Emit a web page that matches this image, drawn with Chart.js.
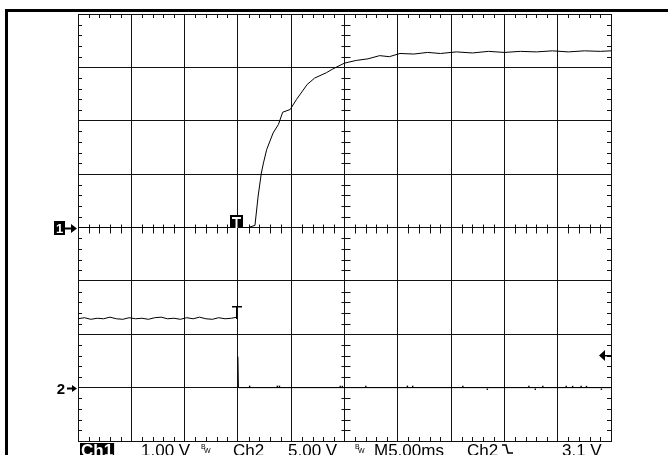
<!DOCTYPE html>
<html>
<head>
<meta charset="utf-8">
<script src="https://cdn.jsdelivr.net/npm/chart.js@4"></script>
<style>
  body { margin: 0; background: #fff; }
  #scope { display: block; }
</style>
</head>
<body>
<canvas id="scope" width="668" height="455"></canvas>
<script>
// scope settings
const ch1VoltsPerDiv = 1.0;
const ch2VoltsPerDiv = 5.0;
const msPerDiv = 5.0;
const ch1OffsetDiv = 0;
const ch2OffsetDiv = -3;
const triggerMs = 14.8;
const triggerLevel = 3.1;

// channel 1 (ms, volts)
const ch1Time = [0, 2, 4, 6, 8, 10, 12, 14, 15, 16, 16.6, 16.9, 17.2, 17.4, 17.7, 18.3, 18.8, 19.2, 19.9, 20.5, 21.5, 22.2, 23.3, 23.9, 25.0, 26.1, 27.2, 28.3, 29.2, 30.2, 31.5, 32.8, 34, 35.5, 37, 38.5, 40, 41.5, 43, 44.5, 46, 47.5, 49, 50];
const ch1Volts = [0, 0, 0, 0, 0, 0, 0, 0, 0, 0, 0.04, 0.59, 1.02, 1.21, 1.46, 1.77, 1.93, 2.16, 2.21, 2.40, 2.68, 2.80, 2.90, 2.97, 3.08, 3.13, 3.16, 3.22, 3.20, 3.26, 3.25, 3.28, 3.26, 3.29, 3.27, 3.30, 3.28, 3.30, 3.29, 3.31, 3.29, 3.31, 3.30, 3.31];

// channel 2 (ms, volts)
const ch2Time = [0, 0.6, 1.2, 1.8, 2.4, 3.0, 3.6, 4.2, 4.8, 5.4, 6.0, 6.6, 7.2, 7.8, 8.4, 9.0, 9.6, 10.2, 10.8, 11.4, 12.0, 12.6, 13.2, 13.8, 14.4, 14.9, 14.95, 15.0, 15.05, 50];
const ch2Volts = [6.45, 6.55, 6.4, 6.5, 6.45, 6.6, 6.45, 6.4, 6.55, 6.45, 6.5, 6.4, 6.55, 6.6, 6.45, 6.5, 6.4, 6.55, 6.45, 6.6, 6.45, 6.4, 6.55, 6.45, 6.5, 6.6, null, 2.9, 0, 0];
const ch2GlitchTime = [16.1, 18.7, 18.9, 24.6, 24.8, 27.0, 30.9, 31.4, 36.1, 38.4, 42.3, 42.9, 43.6, 45.8, 46.4, 47.2, 47.7, 49.1];
const ch2GlitchVolts = [0.12, 0.12, 0.12, 0.1, 0.1, 0.1, 0.12, 0.12, 0.1, -0.15, 0.1, -0.15, 0.12, 0.1, 0.1, 0.1, 0.1, -0.15];

// readout along the bottom
const readout = [
  { text: "Ch1", x: 81, inverse: true },
  { text: "1.00 V", x: 141 },
  { text: "Ch2", x: 233 },
  { text: "5.00 V", x: 288 },
  { text: "M5.00ms", x: 374 },
  { text: "Ch2", x: 467 },
  { text: "3.1 V", x: 562 }
];
const bwMarks = [201, 355];

function toPoints(times, volts, perDiv, offset) {
  return times.map((t, i) => ({ x: t, y: volts[i] === null ? null : volts[i] / perDiv + offset }));
}

const gridColor = '#111';

const scopeDecor = {
  id: 'scopeDecor',
  beforeDatasetsDraw(chart) {
    const ctx = chart.ctx;
    const xs = chart.scales.x, ys = chart.scales.y;
    const a = chart.chartArea;
    const cy = Math.round(ys.getPixelForValue(0)) + 0.5;
    const cx = Math.round(xs.getPixelForValue(25)) + 0.5;
    ctx.save();
    ctx.strokeStyle = gridColor;
    ctx.lineWidth = 1;
    ctx.beginPath();
    for (let t = 1; t < 50; t++) {
      if (t % 5 === 0) continue;
      const px = Math.round(xs.getPixelForValue(t)) + 0.5;
      ctx.moveTo(px, cy - 4); ctx.lineTo(px, cy + 5);
      ctx.moveTo(px, a.top); ctx.lineTo(px, a.top + 4);
      ctx.moveTo(px, a.bottom); ctx.lineTo(px, a.bottom - 4);
    }
    for (let k = -19; k < 20; k++) {
      if (k % 5 === 0) continue;
      const py = Math.round(ys.getPixelForValue(k / 5)) + 0.5;
      ctx.moveTo(cx - 4, py); ctx.lineTo(cx + 5, py);
      ctx.moveTo(a.left, py); ctx.lineTo(a.left + 4, py);
      ctx.moveTo(a.right, py); ctx.lineTo(a.right - 4, py);
    }
    ctx.stroke();
    ctx.restore();
  },
  afterDraw(chart) {
    const ctx = chart.ctx;
    const xs = chart.scales.x, ys = chart.scales.y;
    const a = chart.chartArea;
    ctx.save();
    // outer frame
    ctx.fillStyle = '#000';
    ctx.fillRect(5, 9, 663, 3);
    ctx.fillRect(5, 9, 3, 446);

    // channel ground markers
    const y1 = Math.round(ys.getPixelForValue(ch1OffsetDiv));
    ctx.fillRect(54, y1 - 7, 11, 14);
    ctx.fillStyle = '#fff';
    ctx.font = 'bold 13px "Liberation Sans"';
    ctx.textAlign = 'center';
    ctx.textBaseline = 'alphabetic';
    ctx.fillText('1', 59.5, y1 + 5);
    ctx.fillStyle = '#000';
    ctx.fillRect(65, y1 - 0.5, 8, 2);
    ctx.beginPath(); ctx.moveTo(77, y1 + 0.5); ctx.lineTo(71, y1 - 4); ctx.lineTo(71, y1 + 5); ctx.closePath(); ctx.fill();

    const y2 = Math.round(ys.getPixelForValue(ch2OffsetDiv));
    ctx.font = 'bold 15px "Liberation Sans"';
    ctx.fillText('2', 61, y2 + 6);
    ctx.fillRect(67, y2 - 0.5, 7, 2);
    ctx.beginPath(); ctx.moveTo(77, y2 + 0.5); ctx.lineTo(72, y2 - 3); ctx.lineTo(72, y2 + 4); ctx.closePath(); ctx.fill();

    // trigger position markers
    const xt = Math.round(xs.getPixelForValue(triggerMs));
    ctx.fillRect(xt - 6, y1 - 13, 13, 13);
    ctx.fillStyle = '#fff';
    ctx.fillRect(xt - 4, y1 - 11, 9, 2);
    ctx.fillRect(xt - 0.5, y1 - 11, 2, 11);
    ctx.fillStyle = '#000';
    const yT2 = Math.round(ys.getPixelForValue(ch2Volts[0] / ch2VoltsPerDiv + ch2OffsetDiv));
    ctx.fillRect(xt - 4, yT2 - 13, 10, 1.5);
    ctx.fillRect(xt, yT2 - 13, 1.5, 13);

    // trigger level arrow
    const yl = Math.round(ys.getPixelForValue(triggerLevel / ch2VoltsPerDiv + ch2OffsetDiv));
    ctx.beginPath(); ctx.moveTo(a.right - 12, yl + 0.5); ctx.lineTo(a.right - 6, yl - 5); ctx.lineTo(a.right - 6, yl + 6); ctx.closePath(); ctx.fill();
    ctx.fillRect(a.right - 6, yl, 6, 1.5);

    // readout
    ctx.textAlign = 'left';
    ctx.font = '17px "Liberation Sans"';
    readout.forEach(r => {
      if (r.inverse) {
        ctx.font = 'bold 17px "Liberation Sans"';
        const w = ctx.measureText(r.text).width;
        ctx.fillStyle = '#000';
        ctx.fillRect(r.x - 1, 443, w + 2, 12);
        ctx.fillStyle = '#fff';
        ctx.fillText(r.text, r.x, 456);
        ctx.font = '17px "Liberation Sans"';
        ctx.fillStyle = '#000';
      } else {
        ctx.fillText(r.text, r.x, 456);
      }
    });
    ctx.font = '7px "Liberation Sans"';
    bwMarks.forEach(x => {
      ctx.fillText('B', x, 449);
      ctx.fillText('W', x + 3, 453);
    });
    // falling edge symbol
    ctx.lineWidth = 1.5;
    ctx.beginPath();
    ctx.moveTo(502, 445); ctx.lineTo(506, 445); ctx.lineTo(508, 453); ctx.lineTo(513, 453);
    ctx.stroke();
    ctx.restore();
  }
};

new Chart(document.getElementById('scope'), {
  type: 'line',
  data: {
    datasets: [
      {
        label: 'Ch1',
        data: toPoints(ch1Time, ch1Volts, ch1VoltsPerDiv, ch1OffsetDiv),
        borderColor: '#000', borderWidth: 1, pointRadius: 0, tension: 0
      },
      {
        label: 'Ch2',
        data: toPoints(ch2Time, ch2Volts, ch2VoltsPerDiv, ch2OffsetDiv),
        borderColor: '#000', borderWidth: 1, pointRadius: 0, tension: 0, spanGaps: false
      },
      {
        label: 'Ch2 glitches',
        data: toPoints(ch2GlitchTime, ch2GlitchVolts, ch2VoltsPerDiv, ch2OffsetDiv),
        showLine: false, pointRadius: 1, pointBorderWidth: 0, pointBackgroundColor: '#000', pointStyle: 'rect'
      }
    ]
  },
  options: {
    responsive: false,
    animation: false,
    devicePixelRatio: 1,
    layout: { padding: { left: 78, right: 57, top: 14, bottom: 14 } },
    plugins: { legend: { display: false }, tooltip: { enabled: false } },
    scales: {
      x: {
        type: 'linear', min: 0, max: 50,
        ticks: { display: false, stepSize: msPerDiv },
        grid: { color: gridColor, lineWidth: 1, drawTicks: false },
        border: { color: gridColor }
      },
      y: {
        type: 'linear', min: -4, max: 4,
        ticks: { display: false, stepSize: 1 },
        grid: { color: gridColor, lineWidth: 1, drawTicks: false },
        border: { color: gridColor }
      }
    }
  },
  plugins: [scopeDecor]
});
</script>
</body>
</html>
